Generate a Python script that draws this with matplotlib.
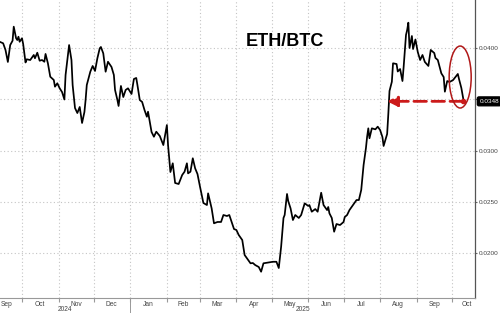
import matplotlib
matplotlib.use('Agg')
import matplotlib.pyplot as plt
import matplotlib.dates as mdates
import matplotlib.transforms as mtransforms
from matplotlib.patches import Ellipse
from datetime import datetime, timedelta
import pandas as pd

plt.rcParams['font.family'] = ['Liberation Sans', 'DejaVu Sans']

# ---------------- data ----------------
dates = [
    "2024-09-12", "2024-09-15", "2024-09-17", "2024-09-19", "2024-09-21", "2024-09-23", "2024-09-24",
    "2024-09-26", "2024-09-27", "2024-09-28", "2024-09-29", "2024-10-01", "2024-10-02", "2024-10-04",
    "2024-10-05", "2024-10-08", "2024-10-11", "2024-10-12", "2024-10-14", "2024-10-16", "2024-10-18",
    "2024-10-20", "2024-10-21", "2024-10-23", "2024-10-25", "2024-10-28", "2024-10-29", "2024-10-31",
    "2024-11-02", "2024-11-04", "2024-11-06", "2024-11-07", "2024-11-09", "2024-11-10", "2024-11-12",
    "2024-11-13", "2024-11-15", "2024-11-17", "2024-11-19", "2024-11-21", "2024-11-23", "2024-11-24",
    "2024-11-25", "2024-11-28", "2024-11-30", "2024-12-02", "2024-12-04", "2024-12-06", "2024-12-07",
    "2024-12-09", "2024-12-11", "2024-12-13", "2024-12-16", "2024-12-18", "2024-12-19", "2024-12-21",
    "2024-12-22", "2024-12-24", "2024-12-26", "2024-12-28", "2024-12-30", "2025-01-02", "2025-01-04",
    "2025-01-06", "2025-01-07", "2025-01-09", "2025-01-11", "2025-01-13", "2025-01-15", "2025-01-16",
    "2025-01-19", "2025-01-21", "2025-01-23", "2025-01-26", "2025-01-29", "2025-02-01", "2025-02-02",
    "2025-02-04", "2025-02-06", "2025-02-08", "2025-02-11", "2025-02-14", "2025-02-16", "2025-02-18",
    "2025-02-19", "2025-02-21", "2025-02-23", "2025-02-25", "2025-02-27", "2025-03-01", "2025-03-04",
    "2025-03-07", "2025-03-08", "2025-03-11", "2025-03-13", "2025-03-16", "2025-03-19", "2025-03-21",
    "2025-03-24", "2025-03-26", "2025-03-28", "2025-03-30", "2025-04-01", "2025-04-03", "2025-04-06",
    "2025-04-08", "2025-04-11", "2025-04-13", "2025-04-15", "2025-04-17", "2025-04-20", "2025-04-22",
    "2025-04-24", "2025-04-28", "2025-05-02", "2025-05-05", "2025-05-07", "2025-05-09", "2025-05-11",
    "2025-05-12", "2025-05-14", "2025-05-15", "2025-05-17", "2025-05-19", "2025-05-21", "2025-05-24",
    "2025-05-26", "2025-05-29", "2025-06-01", "2025-06-02", "2025-06-04", "2025-06-07", "2025-06-09",
    "2025-06-12", "2025-06-14", "2025-06-17", "2025-06-18", "2025-06-19", "2025-06-21", "2025-06-23",
    "2025-06-25", "2025-06-28", "2025-07-01", "2025-07-02", "2025-07-04", "2025-07-06", "2025-07-09",
    "2025-07-12", "2025-07-14", "2025-07-16", "2025-07-18", "2025-07-20", "2025-07-21", "2025-07-22",
    "2025-07-23", "2025-07-25", "2025-07-28", "2025-07-30", "2025-08-01", "2025-08-03", "2025-08-04",
    "2025-08-07", "2025-08-08", "2025-08-09", "2025-08-11", "2025-08-12", "2025-08-15", "2025-08-16",
    "2025-08-18", "2025-08-20", "2025-08-21", "2025-08-23", "2025-08-24", "2025-08-25", "2025-08-26",
    "2025-08-28", "2025-08-29", "2025-08-31", "2025-09-02", "2025-09-04", "2025-09-06", "2025-09-08",
    "2025-09-11", "2025-09-13", "2025-09-16", "2025-09-17", "2025-09-19", "2025-09-22", "2025-09-24",
    "2025-09-25", "2025-09-27", "2025-09-29", "2025-10-02", "2025-10-04", "2025-10-06", "2025-10-07",
    "2025-10-09", "2025-10-11",
]
eth_btc = [
    0.04061, 0.04046, 0.03981, 0.03864, 0.04029, 0.04071, 0.04208,
    0.04095, 0.04078, 0.04110, 0.04061, 0.04095, 0.04039, 0.03859,
    0.03890, 0.03883, 0.03932, 0.03900, 0.03954, 0.03876, 0.03883,
    0.03866, 0.03942, 0.03851, 0.03720, 0.03688, 0.03623, 0.03656,
    0.03607, 0.03571, 0.03498, 0.03737, 0.03932, 0.04029, 0.03883,
    0.03639, 0.03415, 0.03366, 0.03425, 0.03269, 0.03376, 0.03493,
    0.03639, 0.03769, 0.03825, 0.03776, 0.03900, 0.03997, 0.04010,
    0.03948, 0.03769, 0.03866, 0.03815, 0.03737, 0.03591, 0.03493,
    0.03435, 0.03630, 0.03522, 0.03591, 0.03607, 0.03552, 0.03698,
    0.03708, 0.03639, 0.03493, 0.03474, 0.03396, 0.03330, 0.03379,
    0.03181, 0.03135, 0.03184, 0.03142, 0.03054, 0.03249, 0.03054,
    0.02791, 0.02876, 0.02684, 0.02674, 0.02762, 0.02794, 0.02876,
    0.02778, 0.02794, 0.02925, 0.02827, 0.02771, 0.02655, 0.02489,
    0.02469, 0.02583, 0.02437, 0.02291, 0.02304, 0.02304, 0.02372,
    0.02362, 0.02372, 0.02304, 0.02235, 0.02226, 0.02177, 0.02128,
    0.01982, 0.01933, 0.01901, 0.01904, 0.01884, 0.01865, 0.01819,
    0.01901, 0.01909, 0.01916, 0.01916, 0.01855, 0.02063, 0.02343,
    0.02372, 0.02577, 0.02508, 0.02437, 0.02323, 0.02372, 0.02343,
    0.02372, 0.02486, 0.02460, 0.02469, 0.02404, 0.02430, 0.02404,
    0.02589, 0.02469, 0.02420, 0.02450, 0.02388, 0.02343, 0.02209,
    0.02284, 0.02274, 0.02304, 0.02352, 0.02372, 0.02420, 0.02469,
    0.02518, 0.02518, 0.02616, 0.02859, 0.03025, 0.03135, 0.03217,
    0.03120, 0.03217, 0.03207, 0.03233, 0.03201, 0.03132, 0.03045,
    0.03162, 0.03357, 0.03581, 0.03671, 0.03851, 0.03844, 0.03771,
    0.03795, 0.03678, 0.03815, 0.04127, 0.04176, 0.04247, 0.04000,
    0.04117, 0.03990, 0.04083, 0.03961, 0.03883, 0.03932, 0.03864,
    0.03825, 0.03981, 0.03951, 0.03903, 0.03883, 0.03753, 0.03717,
    0.03574, 0.03678, 0.03669, 0.03688, 0.03717, 0.03747, 0.03698,
    0.03610, 0.03480,
]
title = "ETH/BTC"
y_ticks = [0.0200, 0.0250, 0.0300, 0.0350, 0.0400]
y_tick_labels = ["0.0200", "0.0250", "0.0300", "", "0.0400"]
month_label_dates = ["2024-09-18", "2024-10-16", "2024-11-16", "2024-12-16", "2025-01-16",
                     "2025-02-15", "2025-03-16", "2025-04-16", "2025-05-16", "2025-06-16",
                     "2025-07-16", "2025-08-16", "2025-09-16", "2025-10-14"]
month_labels = ["Sep", "Oct", "Nov", "Dec", "Jan", "Feb", "Mar", "Apr", "May", "Jun",
                "Jul", "Aug", "Sep", "Oct"]
last_label = "0.0348"
arrow_target_date = "2025-08-07"

# ---------------- figure ----------------
x = pd.to_datetime(dates)
fig = plt.figure(figsize=(5.0, 3.13), dpi=100)
ax = fig.add_axes([0.0, 0.048, 0.95, 0.952])

ax.plot(x, eth_btc, color="black", lw=1.25, solid_joinstyle="round", zorder=3)

x0 = datetime(2024, 9, 12, 8)
x1 = datetime(2025, 10, 20, 14)
ax.set_xlim(x0, x1)
ax.set_ylim(0.01563, 0.04468)

# grid
grid_kw = dict(color="#c4c4c4", lw=0.8, linestyle=(0, (1, 2.2)))
ax.xaxis.set_major_locator(mdates.MonthLocator())
ax.xaxis.set_major_formatter(plt.NullFormatter())
ax.set_xticks(pd.to_datetime(month_label_dates), minor=True)
ax.set_xticklabels(month_labels, minor=True)
ax.tick_params(axis="x", which="major", length=3, color="#999999", direction="out")
ax.tick_params(axis="x", which="minor", length=0, labelsize=4.8, labelcolor="#444444", pad=2)
ax.grid(True, axis="x", which="major", **grid_kw)

ax.yaxis.tick_right()
ax.set_yticks(y_ticks)
ax.set_yticklabels(y_tick_labels)
ax.tick_params(axis="y", length=1.5, color="#666666", labelsize=4.6, labelcolor="#444444", pad=1.2)
ax.grid(True, axis="y", **grid_kw)

for s in ["left", "top"]:
    ax.spines[s].set_visible(False)
ax.spines["right"].set_color("#555555")
ax.spines["right"].set_linewidth(0.9)
ax.spines["bottom"].set_color("#999999")
ax.spines["bottom"].set_linewidth(0.8)

# year labels and divider
trans = mtransforms.blended_transform_factory(ax.transData, fig.transFigure)
jan1 = datetime(2025, 1, 1)
c2024 = mdates.date2num(x0) + (mdates.date2num(jan1) - mdates.date2num(x0)) / 2
c2025 = mdates.date2num(jan1) + (mdates.date2num(x1) - mdates.date2num(jan1)) / 2
ax.text(c2024, 0.010, "2024", transform=trans, ha="center", va="center", fontsize=4.8, color="#444444")
ax.text(c2025, 0.010, "2025", transform=trans, ha="center", va="center", fontsize=4.8, color="#444444")
ax.plot([jan1, jan1], [0.0, 0.048], transform=trans, color="#999999", lw=0.7, clip_on=False)

# title
ax.text(0.60, 0.860, title, transform=ax.transAxes, ha="center", va="center",
        fontsize=13, fontweight="bold", color="black")

# last value box
ytrans = mtransforms.blended_transform_factory(ax.transAxes, ax.transData)
ax.text(1.009, eth_btc[-1], last_label, transform=ytrans, ha="left", va="center",
        fontsize=4.6, color="white",
        bbox=dict(boxstyle="round,pad=0.3,rounding_size=0.25", fc="black", ec="black"))

# red dashed arrow
red = "#cc1a1a"
end_date = x[-1] - pd.Timedelta(days=1)
ax.annotate("", xy=(pd.Timestamp(arrow_target_date), eth_btc[-1]),
            xytext=(end_date, eth_btc[-1]),
            arrowprops=dict(arrowstyle="-|>,head_length=0.6,head_width=0.3", color=red,
                            lw=2.0, linestyle=(0, (4.5, 2.0)), shrinkA=0, shrinkB=0),
            zorder=4)
ax.plot([end_date], [eth_btc[-1]], marker="o", ms=3, color=red, zorder=4)

# ellipse
ell = Ellipse((mdates.date2num(datetime(2025, 10, 8)), 0.03717), width=18.7, height=0.00604,
              fill=False, ec="#b01818", lw=1.1, zorder=4)
ax.add_patch(ell)

fig.savefig("out.png", dpi=100)
